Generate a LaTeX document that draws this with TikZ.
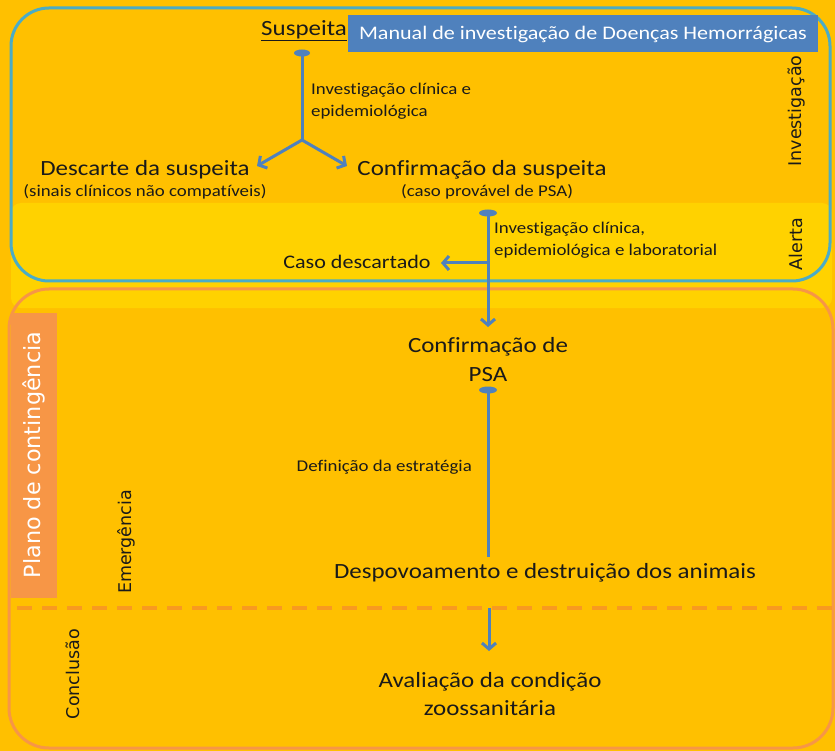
\documentclass[tikz,border=0pt]{standalone}
\usepackage{fontspec}
\setmainfont{Carlito}[FakeStretch=1.15, Ligatures={NoCommon}]
\newfontfamily\sidefont{DejaVu Sans}
\usetikzlibrary{arrows.meta}
\definecolor{bg}{HTML}{FFC000}
\definecolor{band}{HTML}{FFD200}
\definecolor{blueline}{HTML}{4BACC6}
\definecolor{orline}{HTML}{F79646}
\definecolor{dashor}{HTML}{F89A20}
\definecolor{titleblue}{HTML}{4F81BD}
\definecolor{arrowblue}{HTML}{4F81BD}
\definecolor{txt}{HTML}{1A1A1A}
\begin{document}
\begin{tikzpicture}[x=1pt,y=-1pt,
  conn/.style={draw=arrowblue, line width=3pt},
  arr/.style={conn, -{Straight Barb[length=6pt,width=14pt]}},
  dotmark/.style={fill=arrowblue},
  big/.style={font=\fontsize{21.7}{29}\selectfont, text=txt, inner sep=0pt, align=center},
  mid/.style={font=\fontsize{19.2}{24}\selectfont, text=txt, inner sep=0pt},
  small/.style={font=\fontsize{16.4}{22}\selectfont, text=txt, inner sep=0pt},
  side/.style={font={\sidefont\fontsize{17.5}{20}\selectfont}, text=txt, rotate=90, inner sep=0pt}
]
\useasboundingbox (0,0) rectangle (835,751);
\fill[bg] (0,0) rectangle (835,751);
% bands and frames
\fill[band, rounded corners=10pt] (11,203) rectangle (832,308);
\draw[blueline, line width=3pt, rounded corners=38pt] (11,8) rectangle (830,281);
\draw[orline, line width=3pt, rounded corners=40pt] (9,289) rectangle (833,748);
\node[fill=orline, text=white, rotate=90, minimum width=285pt, minimum height=46pt, inner sep=0pt,
  font={\sidefont\fontsize{22.3}{24}\selectfont}] (plano) at (34,455) {Plano de contingência};
\draw[dashor, line width=4pt, dash pattern=on 15pt off 10pt] (17,608) -- (835,608);
% title
\node[fill=titleblue, text=white, font=\fontsize{19.2}{24}\selectfont, minimum width=470pt,
  minimum height=37pt, inner sep=0pt] (title) at (583,34) {Manual de investigação de Doenças Hemorrágicas};
% side labels
\node[side] (inv) at (797,111) {Investigação};
\node[side] (alerta) at (796,244) {Alerta};
\node[side] (emerg) at (126,542) {Emergência};
\node[side] (concl) at (73,674) {Conclusão};
% texts
\node[big] (susp) at (304,31) {\underline{Suspeita}};
\node[small, anchor=west, align=left] (lab1) at (311,101) {Investigação clínica e\\epidemiológica};
\node[big] (desc) at (145,170) {Descarte da suspeita};
\node[small] (descsub) at (145,192) {(sinais clínicos não compatíveis)};
\node[big] (conf) at (482,170) {Confirmação da suspeita};
\node[small] (confsub) at (487,192) {(caso provável de PSA)};
\node[small, anchor=west, align=left] (lab2) at (494,240) {Investigação clínica,\\epidemiológica e laboratorial};
\node[mid] (caso) at (357,262) {Caso descartado};
\node[big] (cpsa) at (488,360) {Confirmação de\\PSA};
\node[small, anchor=east] (lab3) at (472,467) {Definição da estratégia};
\node[big] (desp) at (545,573) {Despovoamento e destruição dos animais};
\node[big, font=\fontsize{21.7}{28}\selectfont] (aval) at (490,694) {Avaliação da condição\\zoossanitária};
% connectors
\coordinate (d1) at (302,53);
\coordinate (b1) at (302,140);
\coordinate (t1) at (257,166);
\coordinate (t2) at (347,166);
\draw[conn] (d1) -- (b1);
\draw[arr] (b1) -- (t1);
\draw[arr] (b1) -- (t2);
\fill[dotmark] (d1) ellipse (8pt and 3.5pt);
\coordinate (d2) at (488,213);
\coordinate (b2) at (488,263);
\coordinate (t3) at (488,327);
\coordinate (t4) at (441,263);
\draw[arr] (d2) -- (t3);
\draw[arr] (b2) -- (t4);
\fill[dotmark] (d2) ellipse (9pt and 3.5pt);
\coordinate (d3) at (488,390);
\coordinate (e3) at (488,557);
\draw[conn] (d3) -- (e3);
\fill[dotmark] (d3) ellipse (9pt and 3.5pt);
\coordinate (s4) at (489,608);
\coordinate (t5) at (489,651);
\draw[arr] (s4) -- (t5);
\end{tikzpicture}
\end{document}
